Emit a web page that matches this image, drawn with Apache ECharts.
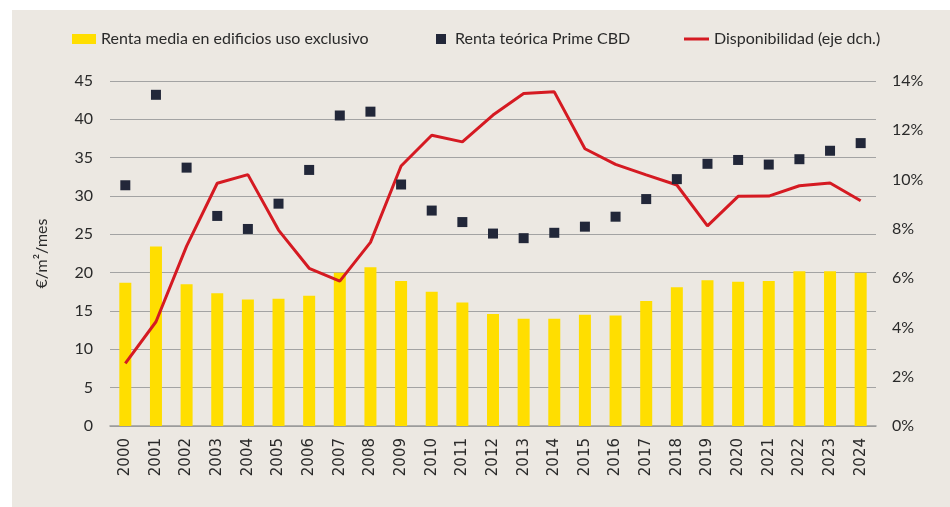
<!DOCTYPE html>
<html>
<head>
<meta charset="utf-8">
<script src="https://cdn.jsdelivr.net/npm/echarts@6/dist/echarts.min.js"></script>
<style>
  html, body { margin: 0; padding: 0; background: #fff; }
  #chart { width: 950px; height: 507px; }
</style>
</head>
<body>
<div id="chart"></div>
<script>
const years = ['2000', '2001', '2002', '2003', '2004', '2005', '2006', '2007', '2008', '2009',
  '2010', '2011', '2012', '2013', '2014', '2015', '2016', '2017', '2018', '2019',
  '2020', '2021', '2022', '2023', '2024'];

// €/m²/mes
const rentaMedia = [18.7, 23.4, 18.5, 17.3, 16.5, 16.6, 17.0, 20.0, 20.7, 18.9,
  17.5, 16.1, 14.6, 14.0, 14.0, 14.5, 14.4, 16.3, 18.1, 19.0,
  18.8, 18.9, 20.2, 20.2, 20.0];

const rentaPrime = [31.4, 43.2, 33.7, 27.4, 25.7, 29.0, 33.4, 40.5, 41.0, 31.5,
  28.1, 26.6, 25.1, 24.5, 25.2, 26.0, 27.3, 29.6, 32.2, 34.2,
  34.7, 34.1, 34.8, 35.9, 36.9];

// % (eje dch.)
const disponibilidad = [2.54, 4.23, 7.3, 9.85, 10.2, 7.95, 6.4, 5.88, 7.45, 10.55,
  11.8, 11.53, 12.62, 13.49, 13.56, 11.25, 10.62, 10.19, 9.78, 8.12,
  9.32, 9.33, 9.75, 9.86, 9.14];

const textColor = '#2a2a2a';
const gridColor = '#a3a3a3';
const font = 'Lato';

const chart = echarts.init(document.getElementById('chart'));

const legendText = { color: textColor, fontFamily: font, fontSize: 16 };

const options = {
  animation: false,
  graphic: [
    {
      type: 'rect',
      z: -10,
      shape: { x: 12, y: 10, width: 938, height: 497 },
      style: { fill: '#ece8e2' }
    }
  ],
  legend: [
    {
      data: ['Renta media en edificios uso exclusivo'],
      left: 72, top: 31, padding: 0,
      icon: 'rect', itemWidth: 24, itemHeight: 10,
      textStyle: legendText
    },
    {
      data: ['Renta teórica Prime CBD'],
      left: 436, top: 31, padding: 0,
      icon: 'rect', itemWidth: 10, itemHeight: 10,
      textStyle: Object.assign({ padding: [0, 0, 0, 4] }, legendText)
    },
    {
      data: ['Disponibilidad (eje dch.)'],
      left: 684, top: 31, padding: 0,
      icon: 'rect', itemWidth: 25, itemHeight: 3,
      textStyle: legendText
    }
  ],
  grid: { left: 110, right: 74, top: 81, bottom: 81 },
  xAxis: {
    type: 'category',
    data: years,
    axisLine: { lineStyle: { color: '#9a9a9a', width: 1.5 } },
    axisTick: { show: false },
    axisLabel: {
      rotate: 90,
      margin: 12,
      color: textColor,
      fontFamily: 'DejaVu Sans',
      fontSize: 15
    }
  },
  yAxis: [
    {
      type: 'value',
      min: 0, max: 45, interval: 5,
      name: '€/m²/mes',
      nameLocation: 'middle',
      nameGap: 60,
      nameTextStyle: { color: textColor, fontFamily: font, fontSize: 16 },
      axisLine: { show: false },
      axisTick: { show: false },
      axisLabel: { color: textColor, fontFamily: font, fontSize: 16, margin: 17 },
      splitLine: { lineStyle: { color: gridColor, width: 1 } }
    },
    {
      type: 'value',
      min: 0, max: 14, interval: 2,
      axisLine: { show: false },
      axisTick: { show: false },
      axisLabel: {
        color: textColor, fontFamily: font, fontSize: 16, margin: 16,
        formatter: '{value}%'
      },
      splitLine: { show: false }
    }
  ],
  series: [
    {
      name: 'Renta media en edificios uso exclusivo',
      type: 'bar',
      data: rentaMedia,
      barWidth: 12,
      itemStyle: { color: '#ffde00' }
    },
    {
      name: 'Renta teórica Prime CBD',
      type: 'scatter',
      data: rentaPrime,
      symbol: 'rect',
      symbolSize: 10,
      itemStyle: { color: '#222739', opacity: 1 },
      z: 4
    },
    {
      name: 'Disponibilidad (eje dch.)',
      type: 'line',
      yAxisIndex: 1,
      data: disponibilidad,
      symbol: 'none',
      lineStyle: { color: '#d51a22', width: 3 },
      itemStyle: { color: '#d51a22' },
      z: 3
    }
  ]
};

chart.setOption(options);
</script>
</body>
</html>
